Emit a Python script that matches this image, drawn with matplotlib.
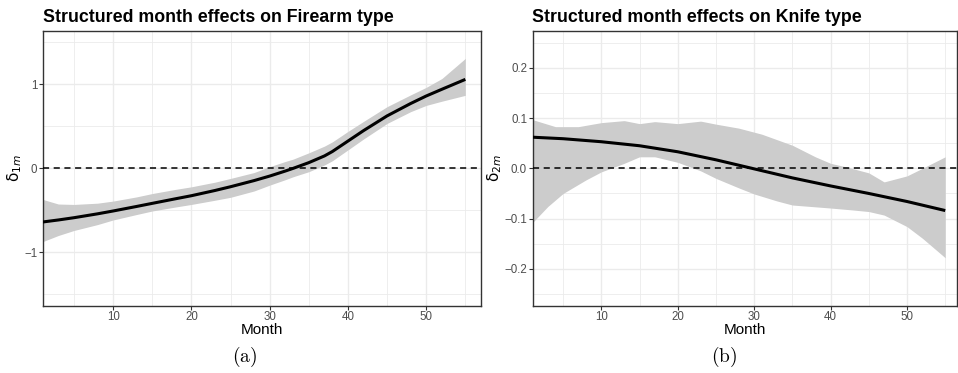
import matplotlib
matplotlib.use("Agg")
import matplotlib.pyplot as plt
import numpy as np

# ---- Data ----
months_a = [1, 3, 5, 8, 10, 13, 15, 18, 20, 23, 25, 28, 30, 32, 33, 35, 37, 38, 40, 42, 45, 48, 50, 52, 55]
fire_mean = [-0.639, -0.615, -0.588, -0.542, -0.508, -0.454, -0.417, -0.362, -0.326, -0.264, -0.219,
             -0.146, -0.092, -0.032, 0.0, 0.068, 0.148, 0.200, 0.325, 0.450, 0.625, 0.772, 0.862,
             0.942, 1.060]
fire_upper = [-0.37, -0.425, -0.43, -0.415, -0.39, -0.34, -0.30, -0.25, -0.22, -0.165, -0.12, -0.05,
              0.02, 0.082, 0.11, 0.185, 0.265, 0.315, 0.44, 0.56, 0.735, 0.875, 0.965, 1.07, 1.31]
fire_lower = [-0.873, -0.80, -0.74, -0.67, -0.615, -0.55, -0.508, -0.46, -0.43, -0.38, -0.345,
              -0.27, -0.20, -0.135, -0.10, -0.04, 0.04, 0.09, 0.22, 0.35, 0.535, 0.675, 0.75, 0.80, 0.87]

months_b_mean = [1, 5, 10, 15, 20, 25, 30, 35, 40, 45, 50, 55]
knife_mean = [0.062, 0.059, 0.053, 0.045, 0.033, 0.017, -0.001, -0.019, -0.035, -0.050, -0.066, -0.084]

months_b_up = [1, 4, 7, 10, 13, 15, 17, 20, 23, 25, 28, 31, 35, 38, 40, 42, 45, 47, 50, 52, 55]
knife_upper = [0.097, 0.083, 0.083, 0.091, 0.095, 0.089, 0.093, 0.089, 0.094, 0.088, 0.080, 0.068,
               0.046, 0.023, 0.010, 0.003, -0.009, -0.027, -0.015, 0.0, 0.023]
months_b_lo = [1, 3, 5, 8, 10, 13, 15, 17, 20, 23, 25, 28, 30, 33, 35, 40, 43, 45, 47, 50, 52, 55]
knife_lower = [-0.108, -0.076, -0.05, -0.023, -0.007, 0.010, 0.023, 0.023, 0.012, -0.005, -0.02,
               -0.039, -0.051, -0.065, -0.073, -0.079, -0.083, -0.086, -0.093, -0.116, -0.139, -0.178]

titles = ["Structured month effects on Firearm type", "Structured month effects on Knife type"]
ylabels = [r"$\mathrm{\delta}_{1\mathit{m}}$", r"$\mathrm{\delta}_{2\mathit{m}}$"]
captions = ["(a)", "(b)"]

W, H = 958, 373
fig = plt.figure(figsize=(W / 100, H / 100), dpi=100)
plt.rcParams['mathtext.fontset'] = 'dejavusans'

def fx(px):
    return px / W

def fy(py):
    return 1 - py / H

boxA = (42.7, 481.0)
boxB = (532.5, 956.7)
top, bot = 30.7, 306.0
axA = fig.add_axes([fx(boxA[0]), fy(bot), fx(boxA[1] - boxA[0]), (bot - top) / H])
axB = fig.add_axes([fx(boxB[0]), fy(bot), fx(boxB[1] - boxB[0]), (bot - top) / H])

def style(ax, xlim, ylim, yticks, yminor, ytl):
    ax.set_xlim(*xlim)
    ax.set_ylim(*ylim)
    ax.set_xticks([10, 20, 30, 40, 50])
    ax.set_xticks([5, 15, 25, 35, 45, 55], minor=True)
    ax.set_yticks(yticks)
    ax.set_yticks(yminor, minor=True)
    ax.set_yticklabels(ytl)
    ax.grid(True, which='major', color='#EBEBEB', lw=1.0, zorder=0)
    ax.grid(True, which='minor', color='#EBEBEB', lw=0.6, zorder=0)
    ax.set_axisbelow(True)
    for s in ax.spines.values():
        s.set_color('#333333')
        s.set_linewidth(1.0)
    ax.tick_params(which='major', length=2.7, width=0.8, color='#333333',
                   labelsize=8.3, labelcolor='#4D4D4D', pad=1.2)
    ax.tick_params(which='minor', length=0)
    ax.axhline(0, color='black', lw=1.1, ls=(0, (4, 3)), zorder=3)

style(axA, (1, 57), (-1.64, 1.64), [-1, 0, 1], [-1.5, -0.5, 0.5, 1.5], ['\u22121', '0', '1'])
style(axB, (1, 56.5), (-0.274, 0.274), [-0.2, -0.1, 0.0, 0.1, 0.2],
      [-0.25, -0.15, -0.05, 0.05, 0.15, 0.25],
      ['\u22120.2', '\u22120.1', '0.0', '0.1', '0.2'])

axA.fill_between(months_a, fire_lower, fire_upper, color='#CCCCCC', lw=0, zorder=2)
axA.plot(months_a, fire_mean, color='black', lw=2.2, zorder=4, solid_capstyle='butt')

xb = np.linspace(1, 55, 400)
axB.fill_between(xb, np.interp(xb, months_b_lo, knife_lower), np.interp(xb, months_b_up, knife_upper),
                 color='#CCCCCC', lw=0, zorder=2)
axB.plot(months_b_mean, knife_mean, color='black', lw=2.2, zorder=4, solid_capstyle='butt')

for ax, box, t, yl, cap, mx, ylx in [(axA, boxA, titles[0], ylabels[0], captions[0], 245, 15),
                                     (axB, boxB, titles[1], ylabels[1], captions[1], 724, 495)]:
    ax.set_title(t, loc='left', fontsize=12.8, fontweight='bold', family='Liberation Sans',
                 pad=6)
    ax.set_xlabel('Month', fontsize=11, family='Liberation Sans')
    ax.xaxis.set_label_coords(0.5, (bot - 329.5) / (bot - top))
    ax.xaxis.label.set_verticalalignment('center')
    ax.set_ylabel(yl, fontsize=11)
    ax.yaxis.set_label_coords((ylx - box[0]) / (box[1] - box[0]), 0.5)
    ax.yaxis.label.set_verticalalignment('center')
    fig.text(fx(mx), fy(357), r'$\mathrm{' + cap + '}$', ha='center', va='center', fontsize=14,
             math_fontfamily='cm')

for ax in (axA, axB):
    for lab in ax.get_xticklabels() + ax.get_yticklabels():
        lab.set_family('Liberation Sans')

fig.savefig('out.png', dpi=100)
